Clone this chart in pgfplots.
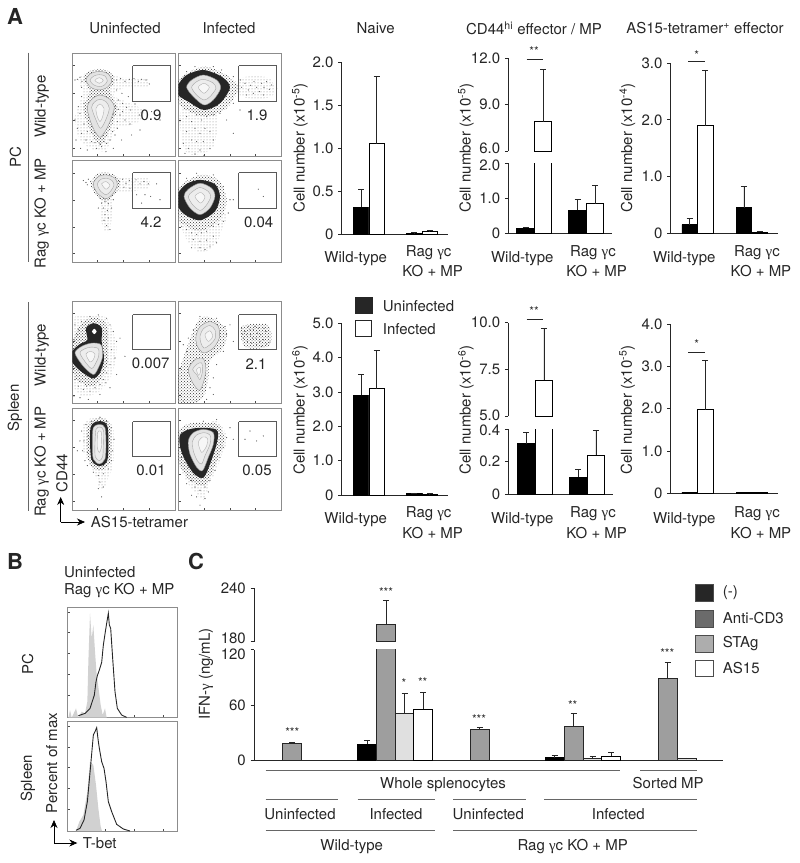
\documentclass[border=0pt]{standalone}
\usepackage{fontspec}
\setmainfont{TeX Gyre Heros}
\newfontfamily\gam{Liberation Serif}
\usepackage{pgfplots}
\usetikzlibrary{arrows.meta,patterns}
\pgfplotsset{compat=1.18}
\newcommand\fs{\fontsize{15}{15}\selectfont}
\newcommand\T[3]{\node[text=black!85,font=\fs,inner sep=0pt] at (#1pt,-#2pt) {#3};}
\newcommand\TL[3]{\node[text=black!85,font=\fs,inner sep=0pt,anchor=west] at (#1pt,-#2pt) {#3};}
\newcommand\R[3]{\node[text=black!85,font=\fs,inner sep=0pt,rotate=90] at (#1pt,-#2pt) {#3};}
\newcommand\Star[3]{\node[text=black!85,font=\fontsize{12}{12}\selectfont,inner sep=0pt] at (#1pt,-#2pt) {#3};}
\newcommand\Ln[3]{\draw[black!60,line width=0.9pt] (#1pt,-#3pt) -- (#2pt,-#3pt);}
\newcommand\g{{\gam γ}}
\pgfplotsset{
  facs/.style={scale only axis,width=102.7pt,height=102.7pt,y dir=reverse,anchor=north west,
    axis line style={black!45,line width=0.6pt},tick pos=left,tick align=inside,major tick length=2.5pt,minor tick length=1.2pt,
    tick style={black!70,line width=0.4pt},minor tick num=4,xticklabels=\empty,yticklabels=\empty,clip=true},
  hist/.style={scale only axis,width=109.6pt,y dir=reverse,anchor=north west,xmin=203,xmax=532,
    axis line style={black!45,line width=0.6pt},tick pos=left,tick align=inside,major tick length=2.5pt,minor tick length=1.2pt,
    tick style={black!70,line width=0.4pt},minor tick num=4,xticklabels=\empty,yticklabels=\empty,xtick={315,402,490}},
  gate/.style={draw=black!65,line width=1pt},
  spk/.style={only marks,mark=*,mark size=0.3pt,black!65,mark options={draw=none}},
  cl/.style={smooth cycle,pattern=dots,pattern color=black!50,draw=none},
  h1/.style={smooth cycle,pattern=crosshatch dots,pattern color=black!80,draw=none},
  h2/.style={smooth cycle,fill=black!85,draw=none},
  r1/.style={smooth cycle,fill=black!11,draw=black!45,line width=0.4pt},
  r2/.style={smooth cycle,fill=black!7,draw=black!35,line width=0.4pt},
  r3/.style={smooth cycle,fill=black!3,draw=black!30,line width=0.4pt},
  barax/.style={scale only axis,anchor=south west,axis x line=bottom,axis y line=left,
    axis line style={-,line width=0.8pt,black!85},xtick=\empty,enlargelimits=false,
    tick align=outside,major tick length=3.5pt,tick style={black!85,line width=0.8pt},
    tick label style={font=\fs,text=black!85,inner sep=0pt},yticklabel style={xshift=-4.5pt},ymin=0,
    ybar,bar shift=0pt},
  upax/.style={barax,axis x line=none},
  blk/.style={fill=black,draw=black,line width=0.8pt},
  wht/.style={fill=white,draw=black,line width=0.8pt},
  acd/.style={fill=black!38,draw=black!85,line width=0.8pt},
  stg/.style={fill=black!12,draw=black!85,line width=0.8pt},
  err/.style={error bars/.cd,y dir=plus,y explicit,
    error bar style={line width=0.8pt,black!85},error mark options={rotate=90,mark size=3pt,line width=0.8pt,black!85}},
}
\begin{document}
\begin{tikzpicture}
\path[use as bounding box] (0pt,0pt) rectangle (800pt,-863pt);

% ---- panel A, peritoneal cells, flow plots (coordinates in 3x crop pixels)
\begin{axis}[facs,at={(72.3pt,-53.3pt)},xmin=217,xmax=525,ymin=160,ymax=468,xtick={293,370,448},ytick={197,280,362,445}]
\addplot[cl] coordinates {(235,235)(300,205)(350,230)(440,235)(440,260)(370,265)(345,290)(430,330)(410,370)(350,385)(320,450)(285,450)(240,420)(225,350)(250,280)};
\addplot[spk] coordinates {(232,238)(240,232)(246,244)(225,240)(350,240)(362,236)(375,244)(388,238)(402,236)(415,244)(425,238)(438,240)(448,252)(355,300)(368,310)(380,322)(392,330)(405,312)(418,345)(360,345)(375,360)(390,372)(352,385)(345,405)(330,420)(320,430)(305,440)(290,445)(275,425)(258,420)(245,400)(232,385)(225,360)(240,340)(252,310)(245,290)(235,320)(228,420)(242,445)(262,450)(318,455)(340,445)(365,420)(395,405)(420,390)(455,335)(480,360)(350,270)(366,280)(385,290)(245,262)(252,372)(262,395)(338,395)(352,365)(368,335)(345,320)(340,342)(355,328)(300,432)(285,428)(312,425)};
\addplot[h1] coordinates {(250,240)(265,215)(298,208)(330,215)(345,243)(328,268)(342,300)(352,325)(338,370)(320,410)(300,435)(280,410)(262,370)(250,325)(262,295)(268,268)};
\addplot[r1] coordinates {(258,240)(270,222)(298,214)(325,222)(335,243)(322,262)(298,270)(272,262)};
\addplot[r2] coordinates {(270,240)(282,228)(298,224)(315,228)(322,243)(312,256)(298,260)(280,254)};
\addplot[r3] coordinates {(285,241)(298,233)(310,241)(298,250)};
\addplot[r1] coordinates {(262,322)(275,298)(300,285)(330,298)(343,322)(330,365)(315,395)(300,412)(285,395)(270,360)};
\addplot[r2] coordinates {(275,322)(285,305)(300,298)(318,305)(328,325)(318,358)(302,385)(288,360)};
\addplot[r3] coordinates {(288,325)(300,312)(312,325)(308,350)(300,365)(292,350)};
\addplot[gate] coordinates {(398,198)(512,198)(512,305)(398,305)(398,198)};
\end{axis}
\begin{axis}[facs,at={(178.3pt,-53.3pt)},xmin=535,xmax=843,ymin=160,ymax=468,xtick={612,690,767},ytick={197,280,362,445}]
\addplot[cl] coordinates {(722,235)(810,235)(815,290)(725,290)};
\addplot[cl] coordinates {(545,330)(650,340)(640,440)(580,465)(550,440)};
\addplot[spk] coordinates {(725,262)(735,250)(745,270)(752,256)(762,245)(770,262)(778,275)(785,250)(792,262)(800,245)(808,268)(815,255)(760,280)(740,285)(790,285)(722,240)(830,265)(850,250)(560,350)(575,365)(590,345)(605,360)(620,350)(640,345)(660,340)(585,385)(600,400)(615,385)(630,395)(560,395)(575,420)(590,425)(610,425)(640,420)(550,430)(565,445)(600,450)(630,445)(555,460)(585,462)(612,466)(700,310)(720,330)(680,360)(700,400)(560,215)(585,200)(640,200)(665,210)(700,230)};
\addplot[h1] coordinates {(535,240)(610,200)(680,225)(715,262)(680,325)(615,350)(550,325)(535,300)};
\addplot[h2] coordinates {(535,255)(560,225)(610,210)(665,230)(690,262)(660,310)(612,330)(565,305)(535,285)};
\addplot[r1] coordinates {(560,262)(575,240)(610,225)(650,240)(662,265)(640,300)(612,315)(580,290)};
\addplot[r2] coordinates {(575,262)(590,245)(610,238)(638,248)(648,265)(630,290)(612,300)(590,285)};
\addplot[r3] coordinates {(595,262)(612,250)(628,262)(612,280)};
\addplot[gate] coordinates {(716,198)(830,198)(830,305)(716,305)(716,198)};
\end{axis}
\begin{axis}[facs,at={(72.3pt,-160pt)},xmin=217,xmax=525,ymin=480,ymax=790,xtick={293,370,448},ytick={520,600,682,762}]
\addplot[cl] coordinates {(350,535)(440,535)(445,565)(360,575)};
\addplot[cl] coordinates {(300,600)(335,600)(330,690)(310,690)};
\addplot[spk] coordinates {(250,542)(258,548)(265,538)(272,545)(262,555)(358,545)(368,538)(378,550)(388,542)(398,548)(408,540)(420,552)(432,545)(445,552)(372,562)(390,565)(410,585)(435,585)(452,590)(305,610)(315,605)(325,612)(310,625)(322,632)(315,645)(325,655)(312,662)(320,678)(330,690)(295,625)(335,625)(300,595)(340,600)(470,552)(480,600)(425,610)};
\addplot[h1] coordinates {(272,552)(292,522)(322,518)(352,530)(360,556)(345,585)(318,605)(288,585)};
\addplot[r1] coordinates {(280,552)(295,530)(320,525)(345,535)(352,555)(340,580)(318,597)(292,580)};
\addplot[r2] coordinates {(292,552)(303,538)(320,535)(336,542)(342,556)(332,574)(318,585)(300,572)};
\addplot[r3] coordinates {(305,552)(318,545)(330,556)(318,568)};
\addplot[gate] coordinates {(398,519)(512,519)(512,625)(398,625)(398,519)};
\end{axis}
\begin{axis}[facs,at={(178.3pt,-160pt)},xmin=535,xmax=843,ymin=480,ymax=790,xtick={612,690,767},ytick={520,600,682,762}]
\addplot[cl] coordinates {(540,660)(610,690)(680,640)(650,730)(600,760)(560,720)};
\addplot[spk] coordinates {(545,680)(560,690)(575,700)(590,705)(605,700)(620,695)(640,680)(655,675)(670,665)(685,640)(580,720)(600,725)(620,722)(640,710)(600,745)(615,750)(630,740)(650,730)(575,745)(700,600)(775,568)(790,590)(590,520)(640,525)(670,560)(690,600)(560,535)};
\addplot[h1] coordinates {(535,565)(600,525)(655,540)(680,600)(660,660)(600,695)(545,670)(535,640)};
\addplot[h2] coordinates {(535,580)(560,552)(600,540)(645,553)(660,590)(645,635)(600,662)(555,645)(535,620)};
\addplot[r1] coordinates {(552,590)(565,568)(600,550)(635,565)(645,590)(630,625)(600,645)(570,625)};
\addplot[r2] coordinates {(565,590)(578,575)(600,563)(625,575)(632,592)(618,618)(600,632)(578,615)};
\addplot[r3] coordinates {(585,590)(602,578)(615,592)(602,610)};
\addplot[gate] coordinates {(716,519)(830,519)(830,625)(716,625)(716,519)};
\end{axis}

% ---- panel A, spleen, flow plots
\begin{axis}[facs,at={(72.3pt,-301pt)},xmin=217,xmax=525,ymin=48,ymax=358,xtick={293,370,448},ytick={85,168,250,332}]
\addplot[cl] coordinates {(220,110)(260,90)(320,100)(350,180)(340,260)(300,320)(250,335)(222,300)};
\addplot[spk] coordinates {(225,120)(235,135)(245,110)(232,150)(222,165)(320,100)(330,120)(340,140)(350,170)(335,195)(345,220)(330,240)(320,265)(310,285)(300,300)(285,310)(270,320)(250,315)(235,305)(225,285)(222,335)(240,340)(265,345)(300,330)(360,160)(375,215)(350,270)(330,310)(400,240)(270,95)(295,90)(240,290)(260,305)(318,295)};
\addplot[h1] coordinates {(217,180)(240,120)(280,98)(320,120)(325,225)(300,290)(270,305)(230,285)(217,250)};
\addplot[h2] coordinates {(217,200)(240,178)(262,165)(258,130)(280,115)(305,128)(305,170)(312,225)(298,268)(278,282)(240,258)(217,232)};
\addplot[smooth cycle,fill=white,draw=none] coordinates {(276,140)(283,132)(290,140)(283,148)};
\addplot[r1] coordinates {(225,205)(245,185)(275,175)(303,180)(308,215)(295,250)(280,270)(250,245)};
\addplot[r2] coordinates {(240,205)(255,192)(275,187)(295,192)(296,215)(285,240)(275,252)(258,235)};
\addplot[r3] coordinates {(258,208)(272,200)(285,208)(280,225)(270,232)};
\addplot[gate] coordinates {(398,90)(512,90)(512,195)(398,195)(398,90)};
\end{axis}
\begin{axis}[facs,at={(178.3pt,-301pt)},xmin=535,xmax=843,ymin=48,ymax=358,xtick={612,690,767},ytick={85,168,250,332}]
\addplot[h1] coordinates {(725,125)(805,120)(810,180)(760,192)(730,180)};
\addplot[spk] coordinates {(725,130)(735,140)(745,125)(752,150)(760,135)(768,160)(775,130)(782,150)(790,165)(798,140)(805,155)(730,160)(742,170)(755,175)(770,180)(785,185)(800,178)(740,150)(758,160)(772,145)(780,170)(765,125)(750,135)(792,130)(810,172)(728,148)(690,120)(680,150)(700,170)(670,200)(650,240)(640,280)(630,310)(560,200)(550,180)(565,160)(580,135)(600,95)(650,100)(675,125)(640,330)(620,345)(590,352)(550,350)};
\addplot[h1] coordinates {(540,250)(575,150)(600,100)(640,100)(680,135)(670,190)(630,230)(625,280)(610,340)(570,358)(535,358)(535,280)};
\addplot[r1] coordinates {(588,155)(600,125)(630,110)(655,125)(658,160)(640,190)(612,205)(592,185)};
\addplot[r2] coordinates {(600,155)(610,132)(630,122)(645,135)(646,160)(630,180)(612,190)(603,175)};
\addplot[r3] coordinates {(615,150)(630,138)(638,155)(625,170)};
\addplot[r1] coordinates {(565,255)(585,225)(610,222)(618,255)(610,295)(598,318)(578,295)};
\addplot[r2] coordinates {(578,255)(592,238)(605,235)(608,258)(600,285)(590,270)};
\addplot[r3] coordinates {(590,255)(600,248)(602,262)(595,272)};
\addplot[gate] coordinates {(716,90)(830,90)(830,195)(716,195)(716,90)};
\end{axis}
\begin{axis}[facs,at={(72.3pt,-408pt)},xmin=217,xmax=525,ymin=370,ymax=682,xtick={293,370,448},ytick={408,490,572,652}]
\addplot[cl] coordinates {(250,420)(300,395)(340,430)(340,540)(305,620)(285,570)(250,500)};
\addplot[spk] coordinates {(245,440)(252,470)(248,500)(255,530)(262,545)(240,470)(232,500)(258,420)(275,410)(300,398)(320,410)(335,430)(342,465)(338,500)(335,530)(325,555)(310,570)(295,575)(280,565)(300,595)(310,610)(295,615)(305,640)(265,480)(262,505)(264,455)};
\addplot[h1] coordinates {(262,425)(300,400)(332,425)(332,530)(300,560)(265,530)};
\addplot[h2] coordinates {(272,428)(300,410)(323,428)(323,525)(300,546)(274,525)};
\addplot[r1] coordinates {(280,430)(300,420)(315,430)(318,480)(315,525)(298,540)(280,525)(277,480)};
\addplot[r2] coordinates {(288,435)(300,428)(310,437)(310,480)(308,518)(298,530)(286,518)(285,480)};
\addplot[r3] coordinates {(293,445)(300,440)(305,447)(304,490)(298,505)(292,490)};
\addplot[gate] coordinates {(398,412)(512,412)(512,517)(398,517)(398,412)};
\end{axis}
\begin{axis}[facs,at={(178.3pt,-408pt)},xmin=535,xmax=843,ymin=370,ymax=682,xtick={612,690,767},ytick={408,490,572,652}]
\addplot[cl] coordinates {(540,520)(565,600)(610,650)(625,610)(680,470)(640,410)};
\addplot[spk] coordinates {(545,520)(555,535)(565,550)(575,590)(585,610)(600,620)(615,610)(630,590)(645,560)(660,520)(670,490)(680,460)(690,430)(700,465)(735,465)(750,440)(770,470)(790,455)(560,600)(590,640)(615,645)(625,625)(600,665)(575,635)(650,405)(610,410)};
\addplot[h1] coordinates {(535,440)(580,415)(655,420)(672,470)(645,545)(615,605)(570,590)(535,530)};
\addplot[h2] coordinates {(540,452)(580,432)(648,435)(652,470)(632,535)(610,582)(578,565)(545,505)};
\addplot[r1] coordinates {(565,470)(580,445)(610,435)(640,445)(640,480)(625,520)(608,560)(590,550)(570,510)};
\addplot[r2] coordinates {(578,470)(590,452)(612,445)(630,452)(630,480)(615,515)(605,540)(592,530)(580,500)};
\addplot[r3] coordinates {(595,475)(608,458)(622,462)(620,485)(605,505)};
\addplot[gate] coordinates {(716,412)(830,412)(830,517)(716,517)(716,412)};
\end{axis}

% ---- panel A, bar charts, top row
\begin{axis}[barax,at={(341.7pt,-234pt)},width=106.3pt,height=171.7pt,xmin=341.7,xmax=448,ymax=2,bar width=15.5pt,
  ytick={0,0.5,1,1.5,2},yticklabels={0,0.5,1.0,1.5,2.0}]
\addplot[blk,err] coordinates {(361,0.31) +- (0,0.21) (414.3,0.01) +- (0,0.005)};
\addplot[wht,err] coordinates {(376.7,1.05) +- (0,0.79) (429.8,0.03) +- (0,0.01)};
\end{axis}
\begin{axis}[barax,at={(508.3pt,-233pt)},width=103.4pt,height=69.7pt,xmin=508.3,xmax=611.7,ymax=2,bar width=17.5pt,
  ytick={0,1},yticklabels={0,1.0},extra y ticks={2},extra y tick labels={2.0},extra y tick style={yticklabel style={yshift=-2.4pt}}]
\addplot[blk,err] coordinates {(525.5,0.13) +- (0,0.03) (577.5,0.65) +- (0,0.32)};
\addplot[wht,err] coordinates {(543,7.9) +- (0,3.4) (595,0.84) +- (0,0.53)};
\end{axis}
\begin{axis}[upax,at={(508.3pt,-151pt)},width=103.4pt,height=92.7pt,xmin=508.3,xmax=611.7,ymin=6,ymax=12,bar width=17.5pt,
  ytick={9,12},yticklabels={9.0,12.0},extra y ticks={6},extra y tick labels={6.0},extra y tick style={yticklabel style={yshift=2.7pt}}]
\addplot[wht,err] coordinates {(543,7.9) +- (0,3.4)};
\end{axis}
\begin{axis}[barax,at={(670.7pt,-233pt)},width=107.6pt,height=169.7pt,xmin=670.7,xmax=778.3,ymax=3,bar width=15.6pt,
  ytick={0,1,2,3},yticklabels={0,1.0,2.0,3.0}]
\addplot[blk,err] coordinates {(689.7,0.15) +- (0,0.1) (743.9,0.45) +- (0,0.38)};
\addplot[wht,err] coordinates {(705.2,1.9) +- (0,0.98) (759.5,0.01) +- (0,0.02)};
\end{axis}

% ---- panel A, bar charts, bottom row
\begin{axis}[barax,at={(341.7pt,-495pt)},width=106.3pt,height=171.7pt,xmin=341.7,xmax=448,ymax=5,bar width=15.5pt,
  ytick={0,1,2,3,4,5},yticklabels={0,1.0,2.0,3.0,4.0,5.0}]
\addplot[blk,err] coordinates {(361,2.9) +- (0,0.6) (414.3,0.05) +- (0,0.01)};
\addplot[wht,err] coordinates {(376.7,3.1) +- (0,1.1) (429.8,0.03) +- (0,0.005)};
\end{axis}
\begin{axis}[barax,at={(508.3pt,-494.3pt)},width=104.4pt,height=65.3pt,xmin=508.3,xmax=612.7,ymax=0.4,bar width=17.7pt,
  ytick={0,0.2},yticklabels={0,0.2},extra y ticks={0.4},extra y tick labels={0.4},extra y tick style={yticklabel style={yshift=-1.5pt}}]
\addplot[blk,err] coordinates {(526,0.31) +- (0,0.07) (578.2,0.105) +- (0,0.045)};
\addplot[wht,err] coordinates {(543.9,6.93) +- (0,2.77) (595.9,0.24) +- (0,0.15)};
\end{axis}
\begin{axis}[upax,at={(508.3pt,-416pt)},width=104.4pt,height=93.3pt,xmin=508.3,xmax=612.7,ymin=5,ymax=10,bar width=17.7pt,
  ytick={7.5,10},yticklabels={7.5,10.0},extra y ticks={5},extra y tick labels={5.0},extra y tick style={yticklabel style={yshift=1pt}}]
\addplot[wht,err] coordinates {(543.9,6.93) +- (0,2.77)};
\end{axis}
\begin{axis}[barax,at={(670.7pt,-493.3pt)},width=107.6pt,height=169.3pt,xmin=670.7,xmax=778.3,ymax=4,bar width=15.6pt,
  ytick={0,1,2,3,4},yticklabels={0,1.0,2.0,3.0,4.0}]
\addplot[blk] coordinates {(689.7,0.03) (743.9,0.03)};
\addplot[wht,err] coordinates {(705.2,1.98) +- (0,1.15)};
\addplot[blk] coordinates {(759.5,0.02)};
\end{axis}

% ---- panel B, histograms
\begin{axis}[hist,at={(67.7pt,-607pt)},height=110.7pt,ymin=186,ymax=518,ytick={201,263,325,388,450}]
\addplot[fill=black!18,draw=none] coordinates {(205,518)(210,495)(215,518)(228,490)(235,518)(245,500)(255,505)(262,470)(265,350)(270,205)(275,280)(280,240)(285,320)(290,390)(297,440)(302,480)(308,510)(315,490)(320,518)(330,518)} -- cycle;
\addplot[black!85,line width=0.9pt] coordinates {(235,512)(255,505)(270,490)(283,450)(288,410)(292,392)(298,375)(305,352)(310,300)(316,260)(320,235)(325,205)(328,240)(332,250)(338,340)(345,440)(352,490)(365,510)(380,517)};
\end{axis}
\begin{axis}[hist,at={(67.7pt,-721pt)},height=110pt,ymin=528,ymax=858,ytick={545,607,668,730,792}]
\addplot[fill=black!18,draw=none] coordinates {(228,858)(238,830)(250,810)(262,740)(270,650)(280,660)(288,720)(295,790)(302,845)(306,858)} -- cycle;
\addplot[black!85,line width=0.9pt] coordinates {(228,856)(240,850)(252,825)(262,770)(272,660)(280,570)(285,560)(290,548)(295,590)(298,610)(305,650)(312,670)(318,710)(325,770)(335,800)(350,838)(370,852)(390,858)};
\end{axis}

% ---- panel C, bars
\begin{axis}[barax,at={(254pt,-760.7pt)},width=469.3pt,height=111pt,xmin=254,xmax=723.3,ymax=120,bar width=18.9pt,
  ytick={0,60},yticklabels={0,60},extra y ticks={120},extra y tick labels={120},extra y tick style={yticklabel style={yshift=-4.6pt}}]
\addplot[blk,err] coordinates {(367,17.6) +- (0,3.9) (554.5,3.2) +- (0,2.6)};
\addplot[acd,err] coordinates {(292,18.7) +- (0,1.3) (386,199.4) +- (0,26.4) (479.8,34.2) +- (0,2.1) (573.7,37) +- (0,14) (667.5,88.8) +- (0,17.2)};
\addplot[stg,err] coordinates {(404.5,51) +- (0,21.6) (592.5,2.6) +- (0,1.8) (686.5,2.2) +- (0,0.8)};
\addplot[wht,err] coordinates {(423.2,55.4) +- (0,18.6) (611.2,5) +- (0,4.4)};
\end{axis}
\begin{axis}[upax,at={(254pt,-641.7pt)},width=469.3pt,height=53.7pt,xmin=254,xmax=723.3,ymin=180,ymax=240,bar width=18.9pt,
  ytick={240},yticklabels={240},extra y ticks={180},extra y tick labels={180},extra y tick style={yticklabel style={yshift=3.4pt}}]
\addplot[acd,err] coordinates {(386,199.4) +- (0,26.4)};
\end{axis}

% ---- text, panel A
\node[font=\fontsize{22}{22}\selectfont\bfseries,text=black!85] at (15pt,-16pt) {A};
\T{125}{28}{Uninfected}\T{229}{28}{Infected}
\T{375.7}{28}{Naive}
\T{534}{28}{CD44\textsuperscript{hi} effector / MP}
\T{705}{28}{AS15-tetramer\textsuperscript{+} effector}
\R{15.3}{156.7}{PC}\R{41.7}{106.7}{Wild-type}\R{41.7}{213.3}{Rag \g c KO + MP}
\draw[black!60,line width=0.9pt] (28.3pt,-52.7pt) -- (28.3pt,-261.7pt);
\T{151}{115}{0.9}\T{257}{115}{1.9}\T{151}{222}{4.2}\T{258.7}{222}{0.04}
\R{15}{407.7}{Spleen}\R{41.7}{355}{Wild-type}\R{41.7}{461.7}{Rag \g c KO + MP}
\draw[black!60,line width=0.9pt] (28.3pt,-302pt) -- (28.3pt,-510.7pt);
\T{150.7}{363.7}{0.007}\T{256}{363.7}{2.1}\T{151}{470}{0.01}\T{257}{470}{0.05}
\R{62}{473}{CD44}
\draw[-{Stealth[length=8pt,width=7pt]},black,line width=0.7pt] (60.7pt,-522pt) -- (60.7pt,-497pt);
\draw[-{Stealth[length=8pt,width=7pt]},black,line width=0.7pt] (60.7pt,-522pt) -- (85pt,-522pt);
\TL{90.7}{522}{AS15-tetramer}
\R{300}{148}{Cell number (x10\textsuperscript{-5})}\R{300}{410}{Cell number (x10\textsuperscript{-6})}
\R{466}{148}{Cell number (x10\textsuperscript{-5})}\R{466}{410}{Cell number (x10\textsuperscript{-6})}
\R{627.3}{148}{Cell number (x10\textsuperscript{-4})}\R{627.3}{410}{Cell number (x10\textsuperscript{-5})}
\foreach \yy/\ya/\yb in {258.5/252.7/270.7,520/514/532.7}{
  \T{355.7}{\yy}{Wild-type}\T{428.7}{\ya}{Rag \g c}\T{432.7}{\yb}{KO + MP}
  \T{522.3}{\yy}{Wild-type}\T{593}{\ya}{Rag \g c}\T{596.7}{\yb}{KO + MP}
  \T{684.3}{\yy}{Wild-type}\T{757}{\ya}{Rag \g c}\T{761}{\yb}{KO + MP}}
\draw[black!85,line width=0.7pt] (526.7pt,-59.3pt) -- (543.3pt,-59.3pt);
\Star{534}{51}{**}
\draw[black!85,line width=0.7pt] (688.3pt,-61.7pt) -- (705pt,-61.7pt);
\Star{696.7}{55}{*}
\draw[black!85,line width=0.7pt] (526.7pt,-319.3pt) -- (543.3pt,-319.3pt);
\Star{534}{311}{**}
\draw[black!85,line width=0.7pt] (688.3pt,-352pt) -- (705pt,-352pt);
\Star{696.7}{344}{*}
% legend, panel A
\draw[fill=black!85,draw=black!85] (355pt,-296.7pt) rectangle (371.7pt,-312.7pt);
\draw[fill=white,draw=black!85,line width=0.7pt] (355pt,-320pt) rectangle (371.7pt,-336.7pt);
\TL{382.7}{305.7}{Uninfected}\TL{382.7}{329.3}{Infected}

% ---- text, panel B
\node[font=\fontsize{22}{22}\selectfont\bfseries,text=black!85] at (15pt,-561.7pt) {B};
\TL{64}{572.3}{Uninfected}\TL{64}{591}{Rag \g c KO + MP}
\R{27.7}{664}{PC}\R{28}{778}{Spleen}\R{51.7}{763}{Percent of max}
\draw[-{Stealth[length=8pt,width=7pt]},black,line width=0.7pt] (54pt,-843pt) -- (54pt,-820pt);
\draw[-{Stealth[length=8pt,width=7pt]},black,line width=0.7pt] (54pt,-843pt) -- (77.3pt,-843pt);
\TL{82.7}{843}{T-bet}

% ---- text, panel C
\node[font=\fontsize{22}{22}\selectfont\bfseries,text=black!85] at (196pt,-561.7pt) {C};
\R{206}{674}{IFN-\g\ (ng/mL)}
\Star{386}{591.7}{***}\Star{404}{683}{*}\Star{422.7}{682}{**}\Star{292.3}{732}{***}
\Star{479}{719}{***}\Star{572.7}{705}{**}\Star{667.3}{653}{***}
\Ln{265.7}{620}{770}\Ln{640}{696.7}{770}
\T{443}{784.3}{Whole splenocytes}\T{668.2}{782.7}{Sorted MP}
\Ln{265.7}{337.7}{799}\Ln{357.7}{435}{799}\Ln{453.3}{525.7}{799}\Ln{544}{696.7}{799}
\T{300}{814.3}{Uninfected}\T{396}{814.3}{Infected}\T{488.3}{814.3}{Uninfected}\T{618.3}{814.3}{Infected}
\Ln{265.7}{435}{830.7}\Ln{453.3}{696.7}{830.7}
\T{351.7}{846.7}{Wild-type}\T{572.7}{846.7}{Rag \g c KO + MP}
\draw[fill=black!85,draw=black!70] (695pt,-584pt) rectangle (712.7pt,-600.7pt);
\draw[fill=black!58,draw=black!70] (695pt,-610pt) rectangle (712.7pt,-626.7pt);
\draw[fill=black!32,draw=black!70] (695pt,-635pt) rectangle (712.7pt,-651.7pt);
\draw[fill=white,draw=black!70] (695pt,-660pt) rectangle (712.7pt,-676pt);
\TL{722.7}{592.3}{(-)}\TL{722.7}{618.3}{Anti-CD3}\TL{722.7}{643.3}{STAg}\TL{722.7}{668.3}{AS15}
\end{tikzpicture}
\end{document}
